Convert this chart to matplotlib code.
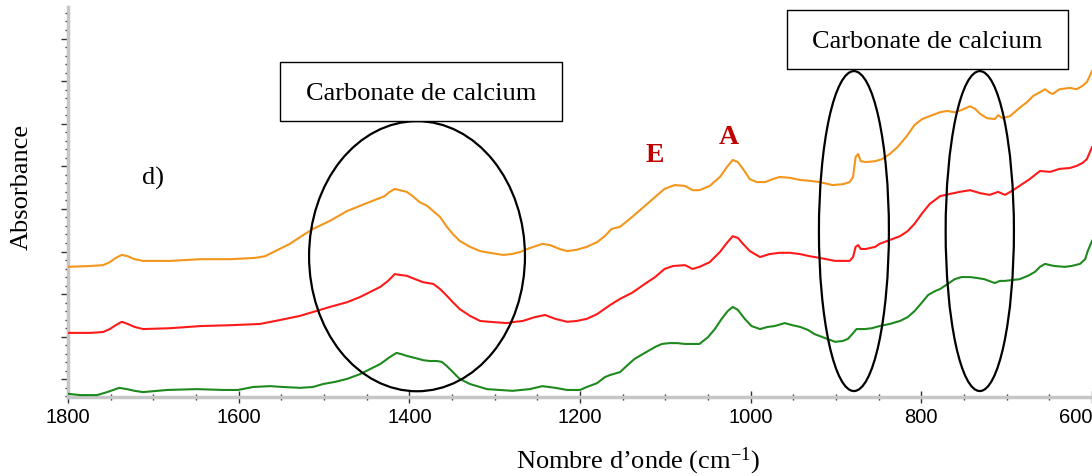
import matplotlib
matplotlib.use("Agg")
import matplotlib.pyplot as plt
from matplotlib.patches import Ellipse, Rectangle
from matplotlib.ticker import MultipleLocator

plt.rcParams["mathtext.fontset"] = "custom"
plt.rcParams["mathtext.rm"] = "Liberation Serif"
plt.rcParams["mathtext.it"] = "Liberation Serif:italic"
plt.rcParams["xtick.labelsize"] = 14.5
plt.rcParams["font.family"] = ["Liberation Sans", "DejaVu Sans"]

# --- spectra (wavenumber in cm-1, absorbance) ---
wn_orange = [1800, 1774, 1759, 1751, 1744, 1737, 1730, 1722, 1712, 1680, 1645, 1610, 1581,
             1569, 1561, 1552, 1540, 1528, 1513, 1493, 1473, 1458, 1443, 1429, 1423, 1417,
             1411, 1403, 1396, 1388, 1379, 1372, 1364, 1356, 1349, 1341, 1329, 1317, 1306,
             1290, 1280, 1270, 1259, 1244, 1235, 1224, 1215, 1204, 1192, 1180, 1171, 1163,
             1153, 1139, 1124, 1112, 1101, 1089, 1077, 1068, 1060, 1048, 1036, 1028, 1021,
             1015, 1009, 1001, 993, 983, 974, 966, 954, 942, 931, 919, 904, 892, 884, 880,
             877, 874, 871, 865, 854, 846, 837, 828, 817, 808, 799, 790, 778, 770, 761, 753,
             743, 737, 731, 723, 714, 710, 705, 696, 685, 676, 669, 661, 655, 649, 646, 638,
             626, 618, 611, 606, 603, 600]
abs_orange = [0.264, 0.266, 0.268, 0.275, 0.285, 0.292, 0.289, 0.282, 0.278, 0.278, 0.282,
              0.282, 0.285, 0.289, 0.297, 0.306, 0.318, 0.334, 0.353, 0.372, 0.395, 0.407,
              0.419, 0.430, 0.440, 0.447, 0.444, 0.440, 0.430, 0.416, 0.407, 0.395, 0.381,
              0.358, 0.341, 0.325, 0.311, 0.301, 0.297, 0.292, 0.294, 0.299, 0.308, 0.318,
              0.315, 0.306, 0.301, 0.304, 0.311, 0.322, 0.336, 0.353, 0.358, 0.381, 0.407,
              0.428, 0.447, 0.456, 0.454, 0.444, 0.444, 0.454, 0.475, 0.498, 0.515, 0.510,
              0.494, 0.470, 0.463, 0.463, 0.470, 0.475, 0.473, 0.468, 0.466, 0.463, 0.456,
              0.458, 0.463, 0.475, 0.522, 0.529, 0.512, 0.510, 0.512, 0.517, 0.529, 0.545,
              0.571, 0.597, 0.611, 0.618, 0.627, 0.630, 0.627, 0.632, 0.641, 0.635, 0.623,
              0.613, 0.611, 0.620, 0.613, 0.618, 0.637, 0.651, 0.665, 0.674, 0.681, 0.672,
              0.670, 0.681, 0.684, 0.681, 0.689, 0.698, 0.710, 0.724]

wn_red = [1800, 1774, 1759, 1751, 1744, 1737, 1730, 1722, 1712, 1680, 1645, 1610, 1575,
          1552, 1528, 1513, 1493, 1473, 1458, 1446, 1434, 1425, 1417, 1411, 1403, 1393,
          1384, 1372, 1364, 1356, 1349, 1341, 1329, 1317, 1306, 1286, 1276, 1267, 1253,
          1241, 1229, 1215, 1204, 1192, 1180, 1165, 1153, 1139, 1124, 1112, 1101, 1091,
          1077, 1068, 1060, 1048, 1036, 1028, 1021, 1015, 1009, 1001, 989, 978, 966, 954,
          942, 931, 919, 901, 884, 880, 877, 874, 871, 865, 854, 849, 837, 825, 816, 808,
          799, 790, 778, 767, 755, 743, 731, 720, 710, 702, 694, 685, 673, 661, 649, 638,
          626, 618, 611, 606, 603, 600]
abs_red = [0.109, 0.109, 0.111, 0.118, 0.127, 0.135, 0.130, 0.123, 0.118, 0.120, 0.125,
           0.127, 0.130, 0.139, 0.149, 0.158, 0.170, 0.181, 0.193, 0.205, 0.217, 0.231,
           0.247, 0.245, 0.243, 0.235, 0.228, 0.224, 0.212, 0.196, 0.181, 0.165, 0.149,
           0.137, 0.135, 0.132, 0.135, 0.137, 0.146, 0.151, 0.142, 0.135, 0.137, 0.142,
           0.153, 0.174, 0.189, 0.203, 0.224, 0.240, 0.259, 0.266, 0.268, 0.259, 0.264,
           0.275, 0.299, 0.320, 0.336, 0.332, 0.318, 0.301, 0.287, 0.294, 0.297, 0.297,
           0.294, 0.289, 0.285, 0.278, 0.278, 0.287, 0.311, 0.315, 0.306, 0.306, 0.311,
           0.318, 0.327, 0.336, 0.348, 0.365, 0.390, 0.412, 0.430, 0.435, 0.440, 0.444,
           0.437, 0.433, 0.440, 0.433, 0.442, 0.454, 0.470, 0.489, 0.487, 0.494, 0.496,
           0.501, 0.508, 0.517, 0.531, 0.545]

wn_green = [1800, 1786, 1766, 1754, 1747, 1740, 1731, 1722, 1712, 1684, 1649, 1618, 1601,
            1583, 1563, 1548, 1528, 1513, 1501, 1487, 1473, 1458, 1446, 1434, 1423, 1415,
            1409, 1403, 1393, 1384, 1376, 1368, 1362, 1356, 1349, 1341, 1329, 1309, 1294,
            1279, 1259, 1244, 1229, 1215, 1200, 1192, 1180, 1171, 1165, 1153, 1144, 1136,
            1124, 1112, 1104, 1095, 1086, 1077, 1068, 1060, 1050, 1042, 1034, 1027, 1021,
            1015, 1007, 999, 989, 980, 972, 960, 951, 942, 933, 925, 913, 901, 892, 886,
            881, 876, 866, 858, 849, 837, 825, 816, 808, 799, 792, 784, 778, 769, 761, 753,
            743, 735, 726, 714, 708, 702, 694, 685, 675, 667, 661, 655, 649, 644, 632, 624,
            614, 608, 605, 600]
abs_green = [-0.034, -0.037, -0.037, -0.030, -0.025, -0.020, -0.023, -0.027, -0.030, -0.025,
             -0.023, -0.025, -0.025, -0.018, -0.016, -0.018, -0.020, -0.018, -0.011, -0.006,
             0.001, 0.012, 0.024, 0.036, 0.052, 0.062, 0.059, 0.055, 0.050, 0.045, 0.043,
             0.043, 0.041, 0.031, 0.017, 0.001, -0.011, -0.023, -0.025, -0.027, -0.023,
             -0.016, -0.020, -0.025, -0.025, -0.018, -0.009, 0.005, 0.010, 0.017, 0.034,
             0.048, 0.062, 0.076, 0.083, 0.085, 0.085, 0.083, 0.083, 0.083, 0.099, 0.118,
             0.142, 0.160, 0.170, 0.163, 0.142, 0.125, 0.118, 0.123, 0.125, 0.132, 0.127,
             0.123, 0.116, 0.106, 0.097, 0.088, 0.090, 0.095, 0.106, 0.118, 0.118, 0.120,
             0.125, 0.130, 0.137, 0.146, 0.160, 0.181, 0.198, 0.207, 0.212, 0.224, 0.235,
             0.240, 0.240, 0.238, 0.235, 0.226, 0.231, 0.231, 0.233, 0.235, 0.243, 0.252,
             0.264, 0.271, 0.268, 0.266, 0.264, 0.266, 0.271, 0.282, 0.301, 0.325]

x_ticks = [1800, 1600, 1400, 1200, 1000, 800, 600]
x_tick_labels = ["1800", "1600", "1400", "1200", "1000", "800", "600"]

W, H = 1092, 477
fig = plt.figure(figsize=(W / 100, H / 100), dpi=100)
ax = fig.add_axes([68 / W, 1 - 398 / H, 1 - 68 / W, 390 / H])

ax.plot(wn_orange, abs_orange, color="#F2961C", lw=1.5, zorder=3)
ax.plot(wn_red, abs_red, color="#FF1A1A", lw=1.5, zorder=3)
ax.plot(wn_green, abs_green, color="#1E8A1E", lw=1.5, zorder=3)

ax.set_xlim(1800, 600)
ax.set_ylim(-0.0415, 0.874)

# axes styling
for side in ("top", "right"):
    ax.spines[side].set_visible(False)
for side in ("left", "bottom"):
    ax.spines[side].set_color("#c6c6c6")
    ax.spines[side].set_linewidth(2.5)

ax.xaxis.set_minor_locator(MultipleLocator(50))
ax.yaxis.set_major_locator(MultipleLocator(0.1))
ax.yaxis.set_minor_locator(MultipleLocator(0.02))
ax.tick_params(axis="x", which="major", direction="inout", length=8, width=1,
               color="#333333", pad=3)
ax.tick_params(axis="x", which="minor", direction="inout", length=5, width=1, color="#333333")
ax.tick_params(axis="y", which="major", direction="out", length=5, width=1,
               color="#333333", labelleft=False)
ax.tick_params(axis="y", which="minor", direction="out", length=2.5, width=1, color="#333333")
ax.set_xticks(x_ticks)
ax.set_xticklabels(x_tick_labels)
ax.get_xticklabels()[-1].set_ha("right")

serif = "Liberation Serif"

# highlighted calcium carbonate regions
for (cx, cy, w, h) in [(1391, 0.289, 253, 0.634), (879, 0.348, 82, 0.751), (731.5, 0.348, 80, 0.751)]:
    ax.add_patch(Ellipse((cx, cy), w, h, fill=False, edgecolor="black", lw=1.6, zorder=4))

# annotation boxes
for (x0, y0, x1, y1) in [(280, 63, 562, 122), (787, 11, 1068, 70)]:
    fig.add_artist(Rectangle((x0 / W, 1 - y1 / H), (x1 - x0) / W, (y1 - y0) / H,
                             transform=fig.transFigure, facecolor="white",
                             edgecolor="black", lw=1.0, zorder=5))
    fig.text((x0 + x1) / 2 / W, 1 - ((y0 + y1) / 2 + 1) / H, "Carbonate de calcium",
             ha="center", va="center", fontsize=19, family=serif, zorder=6)

# labels
fig.text(153 / W, 1 - 178 / H, "d)", ha="center", va="center", fontsize=19, family=serif)
fig.text(655 / W, 1 - 155 / H, "E", ha="center", va="center", fontsize=20, family=serif,
         fontweight="bold", color="#C00000")
fig.text(729 / W, 1 - 137 / H, "A", ha="center", va="center", fontsize=20, family=serif,
         fontweight="bold", color="#C00000")
fig.text(22 / W, 1 - 187 / H, "Absorbance", ha="center", va="center", rotation=90,
         fontsize=19, family=serif)
fig.text(638 / W, 1 - 461 / H, "Nombre d\u2019onde (cm$^{-1}$)", ha="center", va="center",
         fontsize=19, family=serif)

fig.savefig("out.png", dpi=100)
